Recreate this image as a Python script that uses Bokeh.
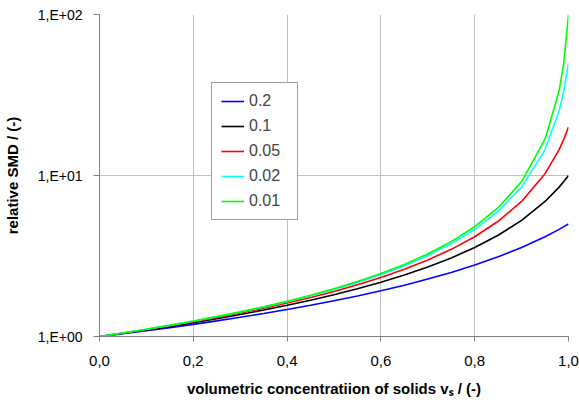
from bokeh.plotting import figure
from bokeh.embed import file_html
from bokeh.resources import INLINE
from bokeh.models import FixedTicker, CustomJSTickFormatter, Legend, LegendItem, Range1d

x = [0.0, 0.05, 0.10, 0.15, 0.20, 0.25, 0.30, 0.35, 0.40, 0.45, 0.50, 0.55,
     0.60, 0.65, 0.70, 0.75, 0.80, 0.85, 0.90, 0.95, 0.98, 0.99, 1.00]

smd_02 = [1.0, 1.042, 1.087, 1.136, 1.19, 1.25, 1.316, 1.389, 1.471, 1.563, 1.667, 1.786,
          1.923, 2.083, 2.273, 2.5, 2.778, 3.125, 3.571, 4.167, 4.63, 4.81, 5.0]
smd_01 = [1.0, 1.047, 1.099, 1.156, 1.22, 1.29, 1.37, 1.46, 1.563, 1.681, 1.818, 1.98,
          2.174, 2.41, 2.703, 3.077, 3.571, 4.255, 5.263, 6.897, 8.47, 9.17, 10.0]
smd_005 = [1.0, 1.05, 1.105, 1.166, 1.235, 1.311, 1.399, 1.498, 1.613, 1.747, 1.905, 2.094,
           2.326, 2.614, 2.985, 3.478, 4.167, 5.195, 6.897, 10.26, 14.49, 16.81, 20.0]
smd_002 = [1.0, 1.052, 1.109, 1.172, 1.244, 1.325, 1.416, 1.522, 1.645, 1.789, 1.961, 2.169,
           2.427, 2.755, 3.185, 3.774, 4.63, 5.988, 8.475, 14.49, 25.25, 33.56, 50.0]
smd_001 = [1.0, 1.052, 1.11, 1.174, 1.247, 1.329, 1.422, 1.53, 1.656, 1.803, 1.98, 2.195,
           2.463, 2.805, 3.257, 3.883, 4.808, 6.309, 9.174, 16.81, 33.56, 50.25, 100.0]

series_labels = ["0.2", "0.1", "0.05", "0.02", "0.01"]
series_values = [smd_02, smd_01, smd_005, smd_002, smd_001]
series_colors = ["#0000ff", "#000000", "#ff0000", "#00ffff", "#00ff00"]

x_ticks = [0.0, 0.2, 0.4, 0.6, 0.8, 1.0]
y_ticks = [1, 10, 100]

FONT = "Liberation Sans"

p = figure(width=579, height=403, y_axis_type="log",
           x_range=Range1d(0, 1), y_range=Range1d(1, 100),
           output_backend="svg", toolbar_location=None,
           min_border_left=98, min_border_right=11, min_border_top=14, min_border_bottom=67)

p.background_fill_color = "white"
p.border_fill_color = "white"
p.outline_line_color = None

items = []
for lab, vals, col in zip(series_labels, series_values, series_colors):
    r = p.line(x, vals, line_color=col, line_width=1.6)
    items.append(LegendItem(label=lab, renderers=[r]))

legend = Legend(items=items, location=(112, 116))
legend.label_text_font = FONT
legend.label_text_font_size = "16px"
legend.glyph_width = 23
legend.glyph_height = 16
legend.label_height = 16
legend.label_width = 39
legend.label_standoff = 5
legend.spacing = 7
legend.padding = 9
legend.margin = 0
legend.border_line_color = "#404040"
legend.border_line_width = 1
legend.background_fill_color = "white"
legend.background_fill_alpha = 1.0
p.add_layout(legend, "center")

# x axis
p.xaxis.ticker = FixedTicker(ticks=x_ticks, minor_ticks=[])
p.xaxis.formatter = CustomJSTickFormatter(code="return tick.toFixed(1).replace('.', ',');")
p.xaxis.axis_label = "volumetric concentratiion of solids v\u209b / (-)"
# y axis
p.yaxis.ticker = FixedTicker(ticks=y_ticks, minor_ticks=[])
p.yaxis.formatter = CustomJSTickFormatter(code="return '1,E+0' + Math.round(Math.log10(tick));")
p.yaxis.axis_label = "relative SMD / (-)"

for ax in (p.xaxis[0], p.yaxis[0]):
    ax.axis_line_color = "#808080"
    ax.axis_line_width = 1
    ax.major_tick_line_color = "#808080"
    ax.major_tick_in = 0
    ax.minor_tick_in = 0
    ax.minor_tick_out = 0
    ax.major_label_text_font = FONT
    ax.major_label_text_color = "black"
    ax.axis_label_text_font = FONT
    ax.axis_label_text_font_style = "bold"
    ax.axis_label_text_font_size = "15px"
    ax.axis_label_text_color = "black"

p.xaxis.major_tick_out = 5
p.yaxis.major_tick_out = 6
p.xaxis.major_label_text_font_size = "15px"
p.yaxis.major_label_text_font_size = "14px"
p.xaxis.major_label_standoff = 14
p.yaxis.major_label_standoff = 11
p.xaxis.axis_label_standoff = 11
p.yaxis.axis_label_standoff = 14

p.xgrid.ticker = FixedTicker(ticks=x_ticks)
p.ygrid.ticker = FixedTicker(ticks=y_ticks)
p.xgrid.grid_line_color = "#c0c0c0"
p.ygrid.grid_line_color = "#c0c0c0"
p.xgrid.grid_line_width = 1
p.ygrid.grid_line_width = 1

open("out.html", "w").write(file_html(p, INLINE))
